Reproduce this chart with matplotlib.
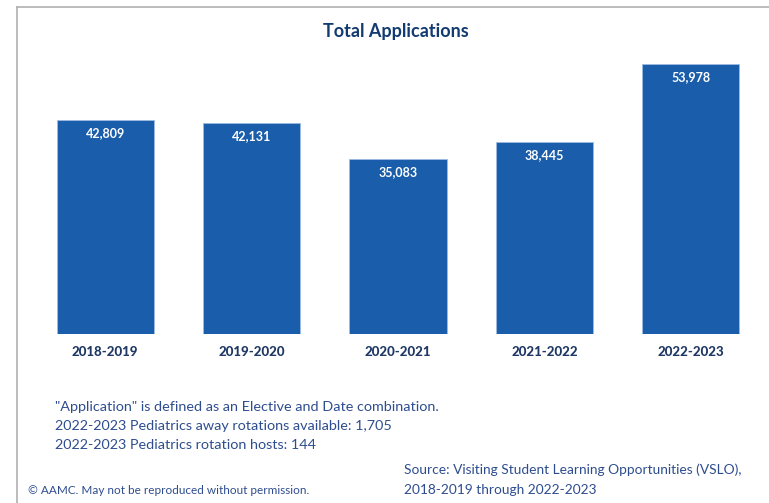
import matplotlib
matplotlib.use("Agg")
import matplotlib.pyplot as plt
from matplotlib.lines import Line2D

plt.rcParams['font.family'] = ['Lato', 'DejaVu Sans']

years = ["2018-2019", "2019-2020", "2020-2021", "2021-2022", "2022-2023"]
applications = [42809, 42131, 35083, 38445, 53978]

W, H = 769, 503
fig = plt.figure(figsize=(W / 100, H / 100), dpi=100)

# axes placement in pixels: left 32, right 764, top 54, bottom 334
ax = fig.add_axes([32 / W, (H - 334) / H, (764 - 32) / W, (334 - 54) / H])
x = range(len(years))
bars = ax.bar(x, applications, width=0.665, color="#1a5dab", edgecolor="#9fbce0", linewidth=0.6)
ax.set_xlim(-0.5, len(years) - 0.5)
ax.set_ylim(0, 56000)
for b, v in zip(bars, applications):
    ax.text(b.get_x() + b.get_width() / 2, v - 1400, f"{v:,}", ha="center", va="top",
            color="white", fontsize=9, fontweight="bold")
ax.set_xticks(list(x))
ax.set_xticklabels(years, fontsize=9.5, fontweight="black", color="#1f3864")
ax.tick_params(axis="x", length=0, pad=9)
ax.set_yticks([])
for s in ax.spines.values():
    s.set_visible(False)

fig.text(396 / W, 1 - 31 / H, "Total Applications", ha="center", va="center",
         fontsize=13, fontweight="bold", color="#123b70")

# frame lines
fig.add_artist(Line2D([17 / W, 17 / W], [0, 1 - 7 / H], color="#b0b0b0", lw=1.2))
fig.add_artist(Line2D([17 / W, 1], [1 - 7 / H, 1 - 7 / H], color="#b0b0b0", lw=1.2))

note_col = "#2e4d8f"
notes = ['"Application" is defined as an Elective and Date combination.',
         "2022-2023 Pediatrics away rotations available: 1,705",
         "2022-2023 Pediatrics rotation hosts: 144"]
for i, t in enumerate(notes):
    fig.text(55 / W, 1 - (407 + 19 * i) / H, t, ha="left", va="center", fontsize=10.4, color=note_col)

fig.text(28 / W, 1 - 490 / H, "\u00a9 AAMC. May not be reproduced without permission.",
         ha="left", va="center", fontsize=8.5, color=note_col)
fig.text(404 / W, 1 - 470 / H, "Source: Visiting Student Learning Opportunities (VSLO),",
         ha="left", va="center", fontsize=9.9, color=note_col)
fig.text(404 / W, 1 - 490 / H, "2018-2019 through 2022-2023",
         ha="left", va="center", fontsize=9.9, color=note_col)

fig.savefig("out.png", dpi=100, facecolor="white")
